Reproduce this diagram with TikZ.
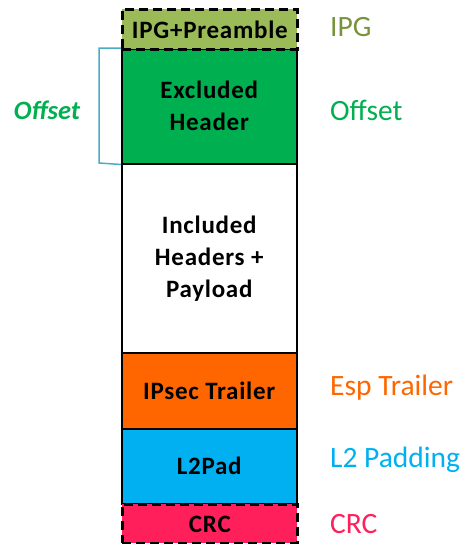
\documentclass[tikz,border=0pt]{standalone}
\usepackage{fontspec}
\setmainfont{Carlito}
\newfontfamily\boxfont[LetterSpace=3]{Carlito}
\begin{document}
\begin{tikzpicture}[x=1pt,y=-1pt,
  seg/.style={draw=black,line width=1.5pt,inner sep=0pt,minimum width=175pt,anchor=north west,
    font=\boxfont\fontsize{25}{32}\selectfont\bfseries,align=center,text=black},
  dashseg/.style={seg,line width=2.8pt,dash pattern=on 9pt off 5pt},
  lbl/.style={anchor=west,font=\fontsize{29.5}{32}\selectfont,inner sep=0pt}]
\definecolor{ipgfill}{HTML}{9BBB59}
\definecolor{ipgtxt}{HTML}{77933C}
\definecolor{hdrgreen}{HTML}{00B050}
\definecolor{trailer}{HTML}{FF6600}
\definecolor{padblue}{HTML}{00B0F0}
\definecolor{crcred}{HTML}{FF1F5B}
\definecolor{brk}{HTML}{4BACC6}
\useasboundingbox (0,0) rectangle (462,544);
\node[seg,fill=hdrgreen,minimum height=115pt] (hdr) at (121,48) {Excluded\\Header};
\node[seg,fill=white,minimum height=189pt] (inc) at (121,163) {Included\\Headers +\\Payload};
\node[seg,fill=trailer,minimum height=76pt] (ips) at (121,352) {IPsec Trailer};
\node[seg,fill=padblue,minimum height=75pt] (pad) at (121,428) {L2Pad};
\node[dashseg,fill=ipgfill,minimum height=40pt] (ipg) at (121,8) {IPG+Preamble};
\node[dashseg,fill=crcred,minimum height=39pt] (crc) at (121,503) {CRC};
\coordinate (bt) at (99,48);
\coordinate (bb) at (99,163);
\draw[brk,line width=1.5pt] (hdr.north west) -- (bt) -- (bb) -- (hdr.south west);
\node[font=\fontsize{26.5}{28}\selectfont\bfseries\itshape,text=hdrgreen,inner sep=0pt] (offl) at (47,110) {Offset};
\node[lbl,text=ipgtxt] (lipg) at (330,27) {IPG};
\node[lbl,text=hdrgreen] (loff) at (330,110) {Offset};
\node[lbl,text=trailer] (lesp) at (330,388) {Esp Trailer};
\node[lbl,text=padblue] (lpad) at (330,460) {L2 Padding};
\node[lbl,text=crcred] (lcrc) at (330,524) {CRC};
\end{tikzpicture}
\end{document}
